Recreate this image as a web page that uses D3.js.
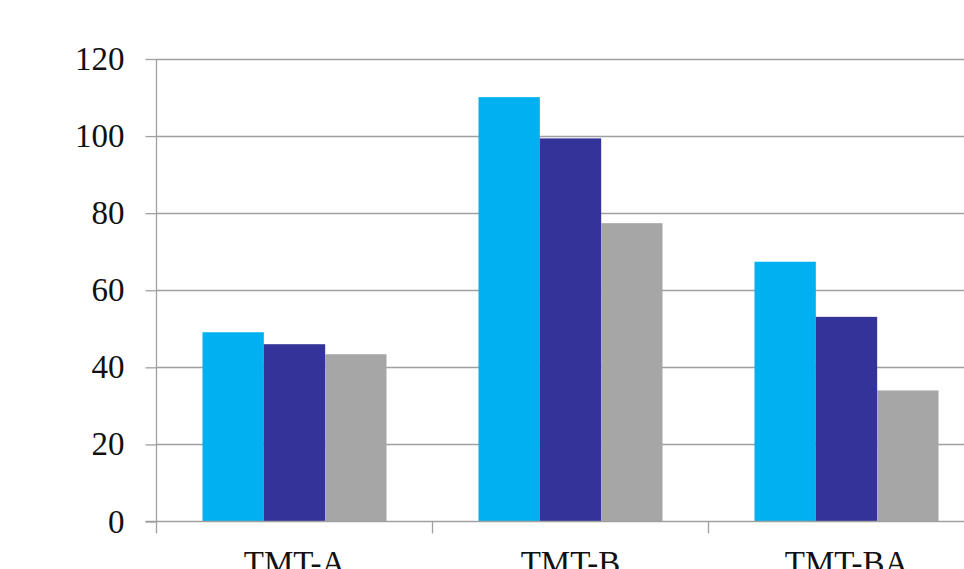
<!DOCTYPE html>
<html>
<head>
<meta charset="utf-8">
<script src="https://cdn.jsdelivr.net/npm/d3@7"></script>
<style>
  html, body { margin: 0; padding: 0; background: #fff; overflow: hidden; }
  svg { display: block; }
</style>
</head>
<body>
<svg id="chart" width="964" height="569"></svg>
<script>
// Test categories and the three series plotted for each
const categories = ["TMT-A", "TMT-B", "TMT-BA"];
const seriesNames = ["s1", "s2", "s3"];
const series1 = [49.1, 110.1, 67.4];
const series2 = [46.0, 99.4, 53.1];
const series3 = [43.4, 77.4, 34.0];
const yTicks = [0, 20, 40, 60, 80, 100, 120];
const colors = ["#00B0F0", "#333399", "#A6A6A6"];

const seriesValues = [series1, series2, series3];

const svg = d3.select("#chart");
const margin = { left: 156.5, top: 59, bottom: 47.5 };
const plotW = 828;
const plotH = 569 - margin.top - margin.bottom;

const g = svg.append("g").attr("transform", `translate(${margin.left},${margin.top})`);

const x = d3.scaleBand().domain(categories).range([0, plotW]).padding(0);
// cluster: gap of 1.5 bar widths split evenly on both sides
const xs = d3.scaleBand().domain(seriesNames).range([0, x.bandwidth()])
  .paddingInner(0).paddingOuter(0.75);
const y = d3.scaleLinear().domain([0, 120]).range([plotH, 0]);

const font = "'Liberation Serif', 'DejaVu Serif', serif";
const gridColor = "#A0A0A0";

// horizontal gridlines
g.append("g").selectAll("line").data(yTicks.filter(t => t > 0)).join("line")
  .attr("x1", 0).attr("x2", plotW)
  .attr("y1", d => Math.round(y(d)) + 0.5).attr("y2", d => Math.round(y(d)) + 0.5)
  .attr("stroke", gridColor).attr("stroke-width", 1.3);

// bars
categories.forEach((c, ci) => {
  seriesNames.forEach((s, si) => {
    const v = seriesValues[si][ci];
    g.append("rect")
      .attr("x", x(c) + xs(s))
      .attr("y", y(v))
      .attr("width", xs.bandwidth())
      .attr("height", y(0) - y(v))
      .attr("fill", colors[si]);
  });
});

// y axis
const yAxis = g.append("g")
  .call(d3.axisLeft(y).tickValues(yTicks).tickFormat(d3.format("d")).tickSize(11).tickPadding(21));
yAxis.select(".domain").attr("stroke", gridColor).attr("stroke-width", 1.3)
  .attr("d", `M0,0V${plotH}`);
yAxis.selectAll(".tick line").attr("stroke", gridColor).attr("stroke-width", 1.3);
yAxis.selectAll(".tick text")
  .attr("font-family", font).attr("font-size", 33).attr("fill", "#111");

// x axis baseline with ticks at category boundaries
const xAxisG = g.append("g").attr("transform", `translate(0,${plotH})`);
xAxisG.append("line").attr("x1", -11).attr("x2", plotW)
  .attr("stroke", gridColor).attr("stroke-width", 1.3);
const bounds = categories.map(c => x(c)).concat([x.range()[1]]);
xAxisG.selectAll("line.tk").data(bounds).join("line").attr("class", "tk")
  .attr("x1", d => d).attr("x2", d => d).attr("y1", 0).attr("y2", 12)
  .attr("stroke", gridColor).attr("stroke-width", 1.3);
xAxisG.selectAll("text").data(categories).join("text")
  .attr("x", d => x(d) + x.bandwidth() / 2)
  .attr("y", 52)
  .attr("text-anchor", "middle")
  .attr("font-family", font).attr("font-size", 33).attr("fill", "#111")
  .text(d => d);
</script>
</body>
</html>
